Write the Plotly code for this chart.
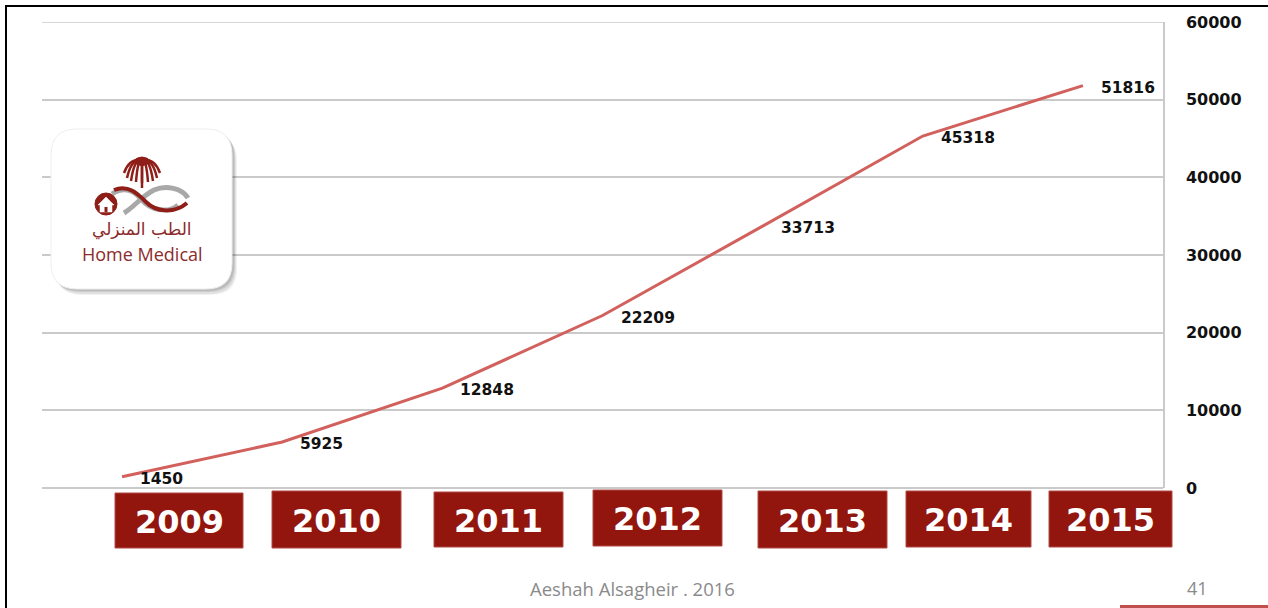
import plotly.graph_objects as go

# ---------------- data ----------------
years = ["2009", "2010", "2011", "2012", "2013", "2014", "2015"]
patients = [1450, 5925, 12848, 22209, 33713, 45318, 51816]
y_ticks = [0, 10000, 20000, 30000, 40000, 50000, 60000]

# ---------------- layout geometry (pixels) ----------------
W, H = 1268, 608
L, R, T, B = 42, 1163, 22, 488


def px(x):
    return (x - L) / (R - L)


def py(y):
    return (B - y) / (B - T)


def path(cmds):
    out = []
    for c in cmds:
        if c == "Z":
            out.append("Z")
            continue
        op, *nums = c
        pts = []
        for i in range(0, len(nums), 2):
            pts.append(f"{px(nums[i]):.5f},{py(nums[i+1]):.5f}")
        out.append(op + " " + " ".join(pts))
    return " ".join(out)


def rounded_rect(x0, y0, x1, y1, r):
    return path([
        ("M", x0 + r, y0), ("L", x1 - r, y0), ("Q", x1, y0, x1, y0 + r),
        ("L", x1, y1 - r), ("Q", x1, y1, x1 - r, y1),
        ("L", x0 + r, y1), ("Q", x0, y1, x0, y1 - r),
        ("L", x0, y0 + r), ("Q", x0, y0, x0 + r, y0), "Z",
    ])


BOLD = "DejaVu Sans"
DARK_RED = "#93160E"
LOGO_RED = "#8C2B2B"
GRID = "#CACACA"

fig = go.Figure()
fig.add_trace(go.Scatter(
    x=years, y=patients, mode="lines",
    line=dict(color="#D2605C", width=3), hoverinfo="skip", showlegend=False,
))

# data labels
for i, v in enumerate(patients):
    fig.add_annotation(
        x=i, y=v, xref="x", yref="y", text=str(v), showarrow=False,
        xanchor="left", yanchor="middle", xshift=16, yshift=-2,
        font=dict(family=BOLD, size=15.5, color="#111111", weight="bold"),
    )

shapes = []

# top gridline (range edge)
shapes.append(dict(type="line", xref="paper", yref="y", x0=0, x1=1, y0=y_ticks[-1], y1=y_ticks[-1],
                   line=dict(color=GRID, width=1.5), layer="below"))

# year boxes (decorative category labels)
box_x = [(115, 243), (272, 401), (434, 563), (593, 722), (758, 887), (906, 1031), (1049, 1172)]
box_y = [(493, 548), (491, 548), (492, 547), (490, 546), (491, 548), (491, 547), (491, 547)]
for yr, (x0, x1), (y0, y1) in zip(years, box_x, box_y):
    shapes.append(dict(type="rect", xref="paper", yref="paper",
                       x0=px(x0), x1=px(x1), y0=py(y1), y1=py(y0),
                       fillcolor=DARK_RED, line=dict(color="#B04A45", width=1), layer="above"))
    fig.add_annotation(xref="paper", yref="paper", x=px((x0 + x1) / 2), y=py((y0 + y1) / 2 + 1),
                       text=yr, showarrow=False, xanchor="center", yanchor="middle",
                       font=dict(family=BOLD, size=32, color="white", weight="bold"))

# slide frame
shapes.append(dict(type="path", xref="paper", yref="paper",
                   path=path([("M", 6, 608), ("L", 6, 6), ("L", 1268, 6)]),
                   line=dict(color="black", width=2), layer="above"))
shapes.append(dict(type="line", xref="paper", yref="paper", x0=px(1120), x1=px(1268), y0=py(606.5), y1=py(606.5),
                   line=dict(color="#C0504D", width=3)))

# logo: shadow + rounded box
for dx, dy, op in [(5, 6, 0.05), (4, 5, 0.07), (3, 3, 0.09), (2, 2, 0.08)]:
    shapes.append(dict(type="path", xref="paper", yref="paper",
                       path=rounded_rect(51 + dx, 129 + dy, 232 + dx, 289 + dy, 26),
                       fillcolor=f"rgba(0,0,0,{op})", line=dict(width=0), layer="above"))
shapes.append(dict(type="path", xref="paper", yref="paper",
                   path=rounded_rect(51, 129, 232, 289, 26),
                   fillcolor="white", line=dict(color="#EEEEEE", width=1), layer="above"))

# palm fronds
PALM = "#8E1E17"
crown = (142, 160)
for ex, ey in [(124, 173), (127, 178), (131, 181), (136, 182), (142, 183), (148, 182), (153, 181), (157, 178), (160, 173)]:
    shapes.append(dict(type="path", xref="paper", yref="paper",
                       path=path([("M", crown[0], crown[1]), ("Q", (crown[0] + ex) / 2 + (ex - crown[0]) * 0.2, crown[1] - 2, ex, ey)]),
                       line=dict(color=PALM, width=2.5), layer="above"))
shapes.append(dict(type="path", xref="paper", yref="paper",
                   path=path([("M", 132, 162), ("Q", 142, 152, 152, 162), ("L", 142, 166), "Z"]),
                   fillcolor=PALM, line=dict(color=PALM, width=1), layer="above"))
shapes.append(dict(type="line", xref="paper", yref="paper", x0=px(142), x1=px(142), y0=py(165), y1=py(188),
                   line=dict(color=PALM, width=2.5), layer="above"))

# swooshes
shapes.append(dict(type="path", xref="paper", yref="paper",
                   path=path([("M", 112, 194), ("C", 124, 186, 134, 190, 142, 200), ("C", 150, 210, 168, 214, 178, 205)]),
                   line=dict(color="#A8A8A8", width=5), layer="above"))
shapes.append(dict(type="path", xref="paper", yref="paper",
                   path=path([("M", 124, 213), ("C", 134, 207, 142, 196, 154, 190), ("C", 166, 185, 182, 188, 188, 198)]),
                   line=dict(color="#A8A8A8", width=5), layer="above"))
shapes.append(dict(type="path", xref="paper", yref="paper",
                   path=path([("M", 114, 190), ("C", 128, 184, 138, 194, 146, 202), ("C", 156, 212, 174, 214, 187, 203)]),
                   line=dict(color=PALM, width=4), layer="above"))
# house circle
shapes.append(dict(type="circle", xref="paper", yref="paper",
                   x0=px(95), x1=px(117), y0=py(215), y1=py(193),
                   fillcolor=PALM, line=dict(color=PALM, width=1), layer="above"))
shapes.append(dict(type="path", xref="paper", yref="paper",
                   path=path([("M", 98, 205), ("L", 106, 197), ("L", 114, 205), ("L", 112, 205), ("L", 112, 212),
                              ("L", 100, 212), ("L", 100, 205), "Z"]),
                   fillcolor="white", line=dict(color="white", width=0.5), layer="above"))
shapes.append(dict(type="rect", xref="paper", yref="paper",
                   x0=px(104.5), x1=px(107.5), y0=py(212), y1=py(207),
                   fillcolor=PALM, line=dict(width=0), layer="above"))

fig.add_annotation(xref="paper", yref="paper", x=px(142), y=py(229), text="الطب المنزلي",
                   showarrow=False, xanchor="center", yanchor="middle",
                   font=dict(family="DejaVu Sans", size=17, color=LOGO_RED))
fig.add_annotation(xref="paper", yref="paper", x=px(142), y=py(254), text="Home Medical",
                   showarrow=False, xanchor="center", yanchor="middle",
                   font=dict(family="Open Sans", size=18, color=LOGO_RED))

# footer
fig.add_annotation(xref="paper", yref="paper", x=px(632), y=py(588), text="Aeshah Alsagheir . 2016",
                   showarrow=False, xanchor="center", yanchor="middle",
                   font=dict(family="Open Sans", size=18.5, color="#8A8A8A"))
fig.add_annotation(xref="paper", yref="paper", x=px(1197), y=py(588), text="41",
                   showarrow=False, xanchor="center", yanchor="middle",
                   font=dict(family="Open Sans", size=18, color="#8A8A8A"))

fig.update_layout(
    template="none",
    width=W, height=H, autosize=False,
    margin=dict(l=L, r=W - R, t=T, b=H - B, pad=0),
    paper_bgcolor="white", plot_bgcolor="white",
    showlegend=False,
    shapes=shapes,
    xaxis=dict(type="category", range=[-0.5, 6.5], showgrid=False, zeroline=False,
               showticklabels=False, showline=False, ticks="", automargin=False, fixedrange=True),
    yaxis=dict(side="right", range=[0, 60000], tickvals=y_ticks, ticktext=[str(t) for t in y_ticks],
               showgrid=True, gridcolor=GRID, gridwidth=1.5,
               zeroline=True, zerolinecolor=GRID, zerolinewidth=1.5,
               showline=True, linecolor=GRID, linewidth=1.5, ticks="", ticklabelstandoff=18,
               tickfont=dict(family=BOLD, size=16, color="#111111", weight="bold"),
               automargin=False, fixedrange=True),
)

fig.write_html("out.html", config={"displayModeBar": False},
               post_script="document.body.style.margin='0';document.body.style.padding='0';")
